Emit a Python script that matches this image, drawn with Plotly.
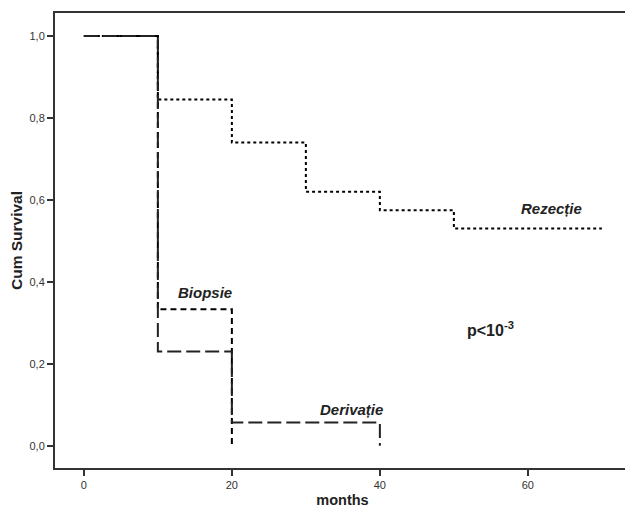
import plotly.graph_objects as go

# Kaplan-Meier step data
rez_t = [0, 10, 20, 30, 40, 50, 70]
rez_s = [1.0, 0.845, 0.74, 0.62, 0.575, 0.53, 0.53]
bio_t = [0, 10, 20]
bio_s = [1.0, 0.333, 0.0]
der_t = [0, 10, 20, 40]
der_s = [1.0, 0.23, 0.057, 0.0]

x_ticks = [0, 20, 40, 60]
y_ticks = [0.0, 0.2, 0.4, 0.6, 0.8, 1.0]
y_labels = ["0,0", "0,2", "0,4", "0,6", "0,8", "1,0"]

fig = go.Figure()
fig.add_trace(go.Scatter(x=rez_t, y=rez_s, mode="lines", line_shape="hv",
                         line=dict(color="black", width=2, dash="dot"), name="Rezecție"))
fig.add_trace(go.Scatter(x=bio_t, y=bio_s, mode="lines", line_shape="hv",
                         line=dict(color="black", width=2, dash="6px,4px"), name="Biopsie"))
fig.add_trace(go.Scatter(x=der_t, y=der_s, mode="lines", line_shape="hv",
                         line=dict(color="#222", width=2, dash="14px,5px"), name="Derivație"))

font_b = dict(family="Liberation Sans, Arial", size=15, color="#222")
fig.add_annotation(x=63.2, y=0.578, text="<b><i>Rezecție</i></b>", showarrow=False, font=font_b)
fig.add_annotation(x=16.35, y=0.373, text="<b><i>Biopsie</i></b>", showarrow=False, font=font_b)
fig.add_annotation(x=36.1, y=0.088, text="<b><i>Derivație</i></b>", showarrow=False, font=font_b)
fig.add_annotation(x=54.9, y=0.285, text="<b>p<10<sup>-3</sup></b>", showarrow=False,
                   font=dict(family="Liberation Sans, Arial", size=16, color="#222"))

# page body has an 8px margin, so the figure is drawn 8px in from the window edge
fig.update_layout(
    width=625, height=501,
    margin=dict(l=47, r=3, t=5, b=41),
    paper_bgcolor="white", plot_bgcolor="white",
    showlegend=False,
    font=dict(family="Liberation Sans, Arial", size=11, color="#333"),
)
fig.update_xaxes(range=[-3.9, 73.8], tickvals=x_ticks, ticks="outside", ticklen=6,
                 tickwidth=2, tickcolor="#333", showgrid=False, zeroline=False,
                 showline=True, linecolor="#333", linewidth=2, mirror=True, automargin=False,
                 title=dict(text="<b>months</b>", font=dict(size=14.5, color="#222"), standoff=5))
fig.update_yaxes(range=[-0.054, 1.056], tickvals=y_ticks, ticktext=y_labels, ticks="outside",
                 ticklen=6, tickwidth=2, tickcolor="#333", showgrid=False, zeroline=False,
                 showline=True, linecolor="#333", linewidth=2, mirror=True, automargin=False,
                 title=dict(text="<b>Cum Survival</b>", font=dict(size=15.5, color="#222"), standoff=8))

fig.write_html("out.html")
